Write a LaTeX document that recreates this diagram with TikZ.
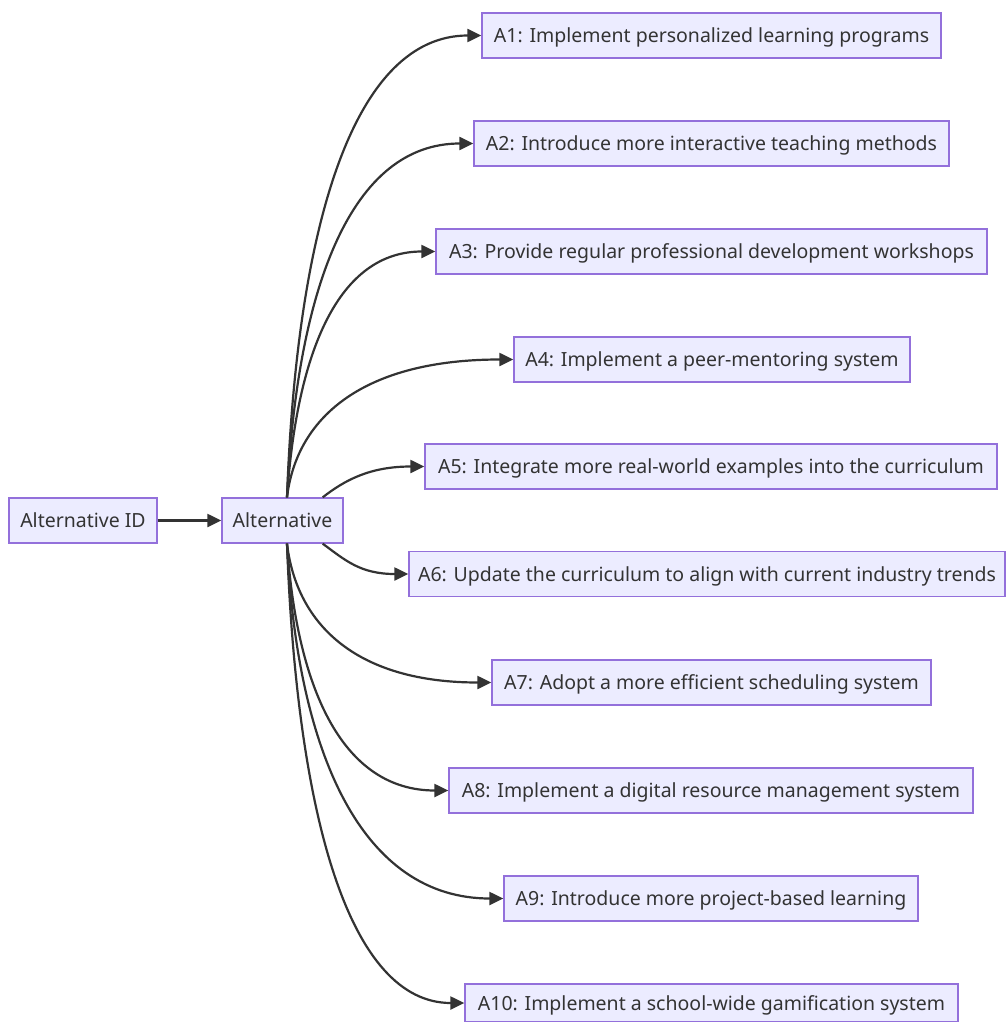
\documentclass[tikz,border=0pt]{standalone}
\usepackage{fontspec}
\setmainfont{Noto Sans}
\usetikzlibrary{arrows.meta,calc}
\definecolor{boxfill}{HTML}{ECECFF}
\definecolor{boxline}{HTML}{9370DB}
\definecolor{ink}{HTML}{333333}
\tikzset{
  box/.style={draw=boxline, fill=boxfill, line width=1.3pt, text=ink, inner sep=0pt,
    minimum height=45pt, text height=14.5pt, text depth=0pt,
    font=\fontsize{19.5pt}{23pt}\selectfont},
  edge/.style={draw=ink, line width=2.2pt, -{Triangle[length=14pt,width=13pt]}}
}
\begin{document}
\begin{tikzpicture}[x=1pt,y=-1pt]
\useasboundingbox (0,0) rectangle (1006,1022);
\node[box, minimum width=148pt] (aid) at (83,520.5) {Alternative ID};
\node[box, minimum width=121pt] (alt) at (282.5,520.5) {Alternative};
\node[box, minimum width=459pt] (a1) at (711.5,35.5) {A1: Implement personalized learning programs};
\node[box, minimum width=475pt] (a2) at (711.5,143.5) {A2: Introduce more interactive teaching methods};
\node[box, minimum width=551pt] (a3) at (711.5,251.5) {A3: Provide regular professional development workshops};
\node[box, minimum width=396pt] (a4) at (712,359.5) {A4: Implement a peer-mentoring system};
\node[box, minimum width=572pt] (a5) at (711,466.5) {A5: Integrate more real-world examples into the curriculum};
\node[box, minimum width=596pt] (a6) at (707,574) {A6: Update the curriculum to align with current industry trends};
\node[box, minimum width=439pt] (a7) at (711.5,682.5) {A7: Adopt a more efficient scheduling system};
\node[box, minimum width=524pt] (a8) at (711,790.5) {A8: Implement a digital resource management system};
\node[box, minimum width=414pt] (a9) at (711,898.5) {A9: Introduce more project-based learning};
\node[box, minimum width=493pt, minimum height=38pt] (a10) at (711.5,1003) {A10: Implement a school-wide gamification system};

\coordinate (up) at ($(alt.north)+(4.5,0)$);
\coordinate (dn) at ($(alt.south)+(4.5,0)$);
\coordinate (upr) at ($(alt.north east)+(-21,0)$);
\coordinate (dnr) at ($(alt.south east)+(-21,0)$);

\draw[edge] (aid) -- (alt);
\draw[edge] (up) .. controls (297,220.5) and (355,35.5) .. (a1.west);
\draw[edge] (up) .. controls (297,285) and (352,143.5) .. (a2.west);
\draw[edge] (up) .. controls (297,350) and (339,251.5) .. (a3.west);
\draw[edge] (up) .. controls (297,415) and (366,359.5) .. (a4.west);
\draw[edge] (upr) .. controls (345,480) and (370,466.5) .. (a5.west);
\draw[edge] (dnr) .. controls (345,560) and (360,574) .. (a6.west);
\draw[edge] (dn) .. controls (297,627) and (359,682.5) .. (a7.west);
\draw[edge] (dn) .. controls (297,692) and (344,790.5) .. (a8.west);
\draw[edge] (dn) .. controls (297,756) and (363,898.5) .. (a9.west);
\draw[edge] (dn) .. controls (297,819) and (350,1003) .. (a10.west);
\end{tikzpicture}
\end{document}
